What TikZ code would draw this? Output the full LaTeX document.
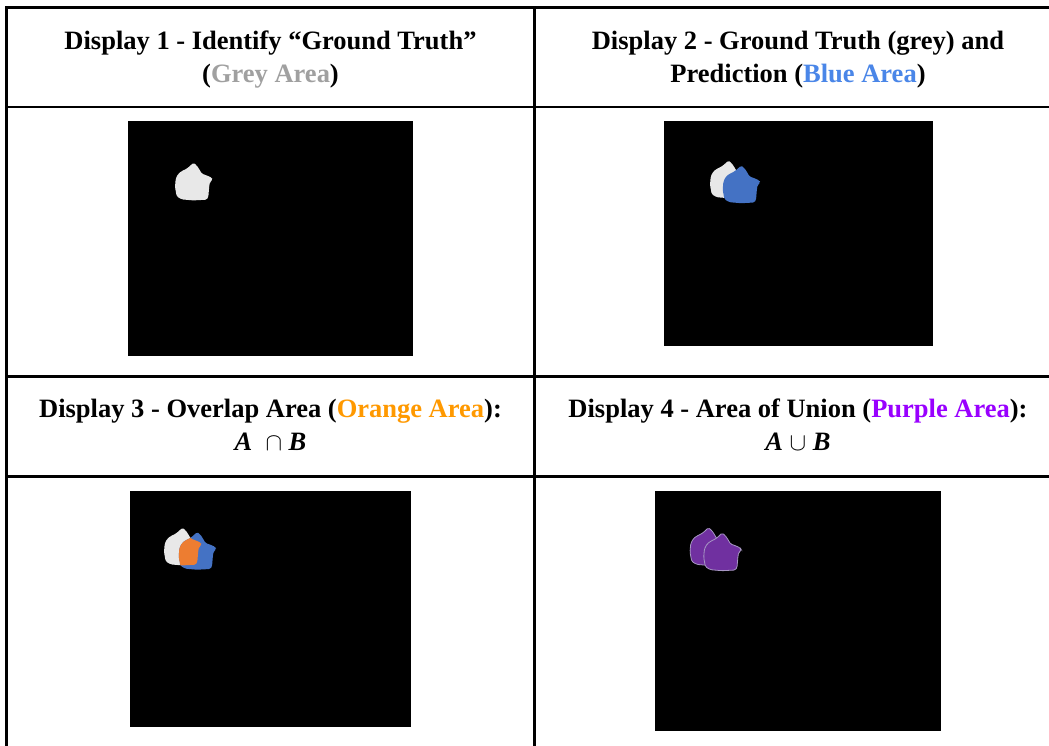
\documentclass[tikz,border=0pt]{standalone}
\usepackage{fontspec}
\setmainfont{Liberation Serif}
\definecolor{gtgrey}{HTML}{E8E8E8}
\definecolor{predblue}{HTML}{4472C4}
\definecolor{ovorange}{HTML}{ED7D31}
\definecolor{unpurple}{HTML}{7030A0}
\definecolor{unedge}{HTML}{A898C4}
\definecolor{txtgrey}{HTML}{A0A0A0}
\definecolor{txtblue}{HTML}{4A86E8}
\definecolor{txtorange}{HTML}{FF9900}
\definecolor{txtpurple}{HTML}{9900FF}
\newcommand\drawblob[2]{\path[#1, shift={#2}, rounded corners=1.5pt] (0,0) -- (3.4,2.7) -- (6.7,7.7) -- (8.4,11) -- (13.4,12.7) -- (18.4,15) -- (19.4,17) -- (16.7,19.4) -- (16,22.7) -- (15,34.4) -- (13.4,37) -- (0,37.7) -- (-11.6,36.7) -- (-16.6,33.7) -- (-18.3,24.4) -- (-17.6,16) -- (-15,11) -- (-11.6,8.4) -- (-6.6,6) -- (-2.6,2.7) -- cycle;}
\newcommand\clipblob[1]{\clip[shift={#1}, rounded corners=1.5pt] (0,0) -- (3.4,2.7) -- (6.7,7.7) -- (8.4,11) -- (13.4,12.7) -- (18.4,15) -- (19.4,17) -- (16.7,19.4) -- (16,22.7) -- (15,34.4) -- (13.4,37) -- (0,37.7) -- (-11.6,36.7) -- (-16.6,33.7) -- (-18.3,24.4) -- (-17.6,16) -- (-15,11) -- (-11.6,8.4) -- (-6.6,6) -- (-2.6,2.7) -- cycle;}
\begin{document}
\begin{tikzpicture}[x=1pt,y=-1pt,
  rule/.style={line width=2.6pt},
  head/.style={font=\bfseries\fontsize{26.5}{33}\selectfont, align=center, inner sep=0pt},
  img/.style={fill=black, draw=none}]
\useasboundingbox (0,0) rectangle (1049,746);
\fill[white] (0,0) rectangle (1049,746);
% table rules
\draw[rule] (6.5,746) -- (6.5,7.5) -- (1049,7.5);
\draw[rule] (534.5,7.5) -- (534.5,746);
\draw[rule] (5.2,107) -- (1049,107);
\draw[rule] (5.2,376.5) -- (1049,376.5);
\draw[rule] (5.2,476.5) -- (1049,476.5);
% headers
\node[head] (h1) at (270.5,60) {Display 1 - Identify “Ground Truth”\\(\textcolor{txtgrey}{Grey Area})};
\node[head] (h2) at (798,60) {Display 2 - Ground Truth (grey) and\\Prediction (\textcolor{txtblue}{Blue Area})};
\node[head] (h3) at (270.5,425) {Display 3 - Overlap Area (\textcolor{txtorange}{Orange Area}):\\\textit{A}\ \ $\cap$ \textit{B}};
\node[head] (h4) at (798,425) {Display 4 - Area of Union (\textcolor{txtpurple}{Purple Area}):\\\textit{A}\ $\cup$ \textit{B}};
% images
\path[img] (128,121) rectangle (413,356);
\path[img] (664,121) rectangle (933,346);
\path[img] (130,491) rectangle (411,727);
\path[img] (655,491) rectangle (941,731);
% display 1
\drawblob{fill=gtgrey}{(193.3,162.7)}
% display 2
\drawblob{fill=gtgrey}{(728.3,160.5)}
\drawblob{fill=predblue}{(741,165.5)}
% display 3
\drawblob{fill=gtgrey}{(182.3,527.7)}
\drawblob{fill=predblue}{(197,532)}
\begin{scope}
\clipblob{(182.3,527.7)}
\drawblob{fill=ovorange}{(197,532)}
\end{scope}
% display 4
\drawblob{fill=unpurple, draw=unedge, line width=0.8pt}{(708.3,527.7)}
\drawblob{fill=unpurple, draw=unedge, line width=0.8pt}{(722,533)}
\end{tikzpicture}
\end{document}
